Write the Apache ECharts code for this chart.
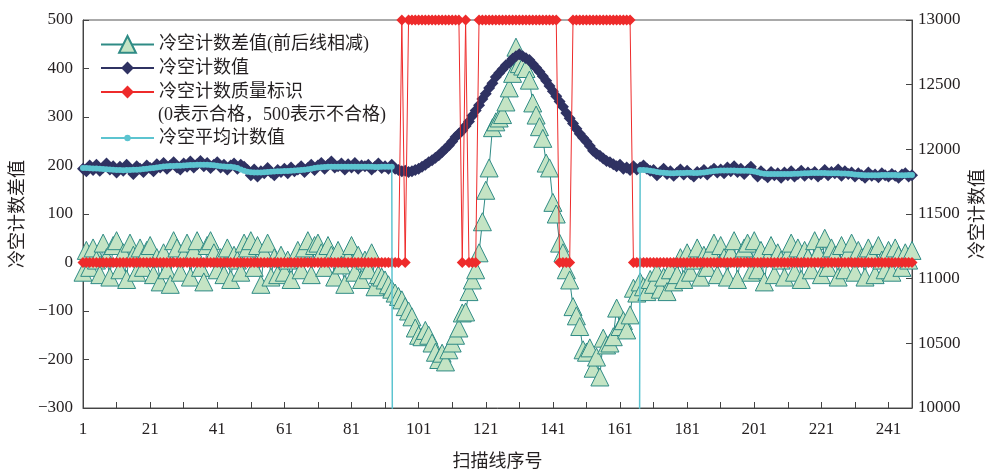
<!DOCTYPE html>
<html>
<head>
<meta charset="utf-8">
<script src="https://cdn.jsdelivr.net/npm/echarts@6/dist/echarts.min.js"></script>
<style>
html,body{margin:0;padding:0;background:#fff;}
#chart{width:993px;height:474px;}
</style>
</head>
<body>
<div id="chart"></div>
<script>
// ---------------- DATA ----------------
const seriesNames = ['冷空计数差值(前后线相减)', '冷空计数值', '冷空计数质量标识', '冷空平均计数值'];
const flagNote = '(0表示合格，500表示不合格)';
const xAxisName = '扫描线序号';
const leftAxisName = '冷空计数差值';
const rightAxisName = '冷空计数值';
const firstScanLine = 1;
const lastScanLine = 248;

// 冷空计数差值 (left axis), scan lines 1..248
const diffValues = [
  -20, 25, -10, 30, 5, -25, 40, 10, -30, 35,
  45, -15, 20, -35, 40, 15, -20, 30, -10, 25,
  35, -25, 10, -40, 20, -15, -45, 45, 30, -20,
  15, 40, -30, 25, 45, -10, -40, 35, 45, 20,
  -15, 10, -25, 30, -35, 15, 5, -20, 40, 30,
  45, -10, 35, -45, 20, 40, -30, 10, -25, 15,
  -20, 5, -35, 10, 25, -15, 30, 45, -25, 35,
  40, 20, -10, 35, 15, -30, 25, -5, -45, 10,
  35, -20, 15, -35, 5, -15, 20, -50, -25, -30,
  -36, -46, -55, -63, -70, -77, -91, -100, -112, -135,
  -150, -153, -140, -150, -166, -185, -200, -187, -205, -180,
  -166, -150, -135, -104, -102, -60, -36, -15, 20, 84,
  149, 195, 278, 290, 298, 305, 331, 360, 390, 444,
  410, 405, 400, 376, 329, 304, 280, 256, 205, 195,
  124, 100, 40, 20, -15, -36, -91, -110, -132, -180,
  -185, -176, -218, -195, -236, -156, -170, -166, -153, -94,
  -132, -120, -139, -108, -53, -63, -40, -50, -60, -35,
  -45, -20, -55, -30, -60, -15, -40, -25, 10, -35,
  20, -20, 5, 30, -30, 15, -10, 25, 40, -25,
  35, 10, -30, 20, 45, -35, 15, 30, 40, -20,
  45, -15, 25, -40, 10, 35, -25, 20, 5, -30,
  15, 40, -20, 30, -35, 25, 10, -15, 45, 20,
  -25, 50, -10, 30, 15, -30, 35, -15, 20, 40,
  -20, 25, 10, -30, 30, 15, -25, 35, 5, -15,
  25, -20, 30, 15, -10, 20, 5, 25
];

// 冷空计数值 (right axis)
const countValues = [
  11850, 11830, 11875, 11840, 11880, 11835, 11860, 11890, 11845, 11870,
  11820, 11865, 11835, 11880, 11845, 11810, 11870, 11850, 11825, 11875,
  11855, 11830, 11885, 11860, 11895, 11850, 11875, 11900, 11860, 11845,
  11890, 11865, 11905, 11860, 11885, 11910, 11870, 11895, 11855, 11880,
  11900, 11860, 11880, 11845, 11875, 11890, 11850, 11880, 11865, 11840,
  11800, 11845, 11790, 11830, 11815, 11855, 11820, 11800, 11840, 11825,
  11850, 11815, 11860, 11830, 11845, 11870, 11825, 11855, 11880, 11840,
  11875, 11895, 11850, 11880, 11905, 11860, 11870, 11890, 11845, 11885,
  11860, 11895, 11850, 11875, 11870, 11880, 11845, 11865, 11890, 11855,
  11870, 11850, 11880, 11850, 11840, 11830, 11835, 11825, 11830, 11840,
  11850, 11865, 11880, 11900, 11915, 11935, 11955, 11980, 12005, 12030,
  12060, 12095, 12120, 12145, 12180, 12215, 12260, 12300, 12340, 12390,
  12430, 12475, 12510, 12560, 12590, 12620, 12650, 12670, 12700, 12720,
  12735, 12720, 12705, 12690, 12660, 12630, 12600, 12565, 12530, 12490,
  12450, 12410, 12370, 12330, 12280, 12240, 12200, 12160, 12120, 12090,
  12060, 12025, 11990, 11965, 11950, 11930, 11910, 11900, 11885, 11870,
  11880, 11850, 11860, 11840, 11870, 11845, 11860, 11875, 11850, 11835,
  11840, 11800, 11825, 11850, 11810, 11830, 11795, 11820, 11845, 11805,
  11835, 11810, 11790, 11825, 11815, 11840, 11805, 11830, 11850, 11820,
  11845, 11815, 11860, 11830, 11870, 11825, 11850, 11810, 11840, 11865,
  11820, 11790, 11830, 11805, 11785, 11825, 11800, 11815, 11780, 11820,
  11800, 11830, 11790, 11810, 11835, 11795, 11820, 11805, 11825, 11790,
  11810, 11840, 11800, 11825, 11815, 11845, 11795, 11830, 11810, 11820,
  11790, 11815, 11800, 11780, 11820, 11795, 11805, 11785, 11815, 11800,
  11790, 11810, 11795, 11780, 11805, 11815, 11790, 11800
];

// 冷空计数质量标识 (0 合格, 500 不合格), left axis
const flagValues = [
  0, 0, 0, 0, 0, 0, 0, 0, 0, 0,
  0, 0, 0, 0, 0, 0, 0, 0, 0, 0,
  0, 0, 0, 0, 0, 0, 0, 0, 0, 0,
  0, 0, 0, 0, 0, 0, 0, 0, 0, 0,
  0, 0, 0, 0, 0, 0, 0, 0, 0, 0,
  0, 0, 0, 0, 0, 0, 0, 0, 0, 0,
  0, 0, 0, 0, 0, 0, 0, 0, 0, 0,
  0, 0, 0, 0, 0, 0, 0, 0, 0, 0,
  0, 0, 0, 0, 0, 0, 0, 0, 0, 0,
  0, 0, 0, 0, 0, 500, 0, 500, 500, 500,
  500, 500, 500, 500, 500, 500, 500, 500, 500, 500,
  500, 500, 500, 0, 500, 0, 0, 0, 500, 500,
  500, 500, 500, 500, 500, 500, 500, 500, 500, 500,
  500, 500, 500, 500, 500, 500, 500, 500, 500, 500,
  500, 500, 0, 0, 0, 0, 500, 500, 500, 500,
  500, 500, 500, 500, 500, 500, 500, 500, 500, 500,
  500, 500, 500, 500, 0, 0, 0, 0, 0, 0,
  0, 0, 0, 0, 0, 0, 0, 0, 0, 0,
  0, 0, 0, 0, 0, 0, 0, 0, 0, 0,
  0, 0, 0, 0, 0, 0, 0, 0, 0, 0,
  0, 0, 0, 0, 0, 0, 0, 0, 0, 0,
  0, 0, 0, 0, 0, 0, 0, 0, 0, 0,
  0, 0, 0, 0, 0, 0, 0, 0, 0, 0,
  0, 0, 0, 0, 0, 0, 0, 0, 0, 0,
  0, 0, 0, 0, 0, 0, 0, 0
];

// 冷空平均计数值 (right axis), 0 where no valid mean
const meanValues = [
  11855, 11855, 11853, 11852, 11852, 11850, 11848, 11846, 11844, 11842,
  11840, 11840, 11839, 11840, 11841, 11842, 11843, 11845, 11848, 11850,
  11853, 11856, 11860, 11864, 11867, 11870, 11871, 11872, 11873, 11874,
  11875, 11877, 11878, 11879, 11880, 11880, 11881, 11880, 11878, 11876,
  11873, 11870, 11868, 11866, 11865, 11862, 11855, 11845, 11835, 11826,
  11822, 11820, 11820, 11821, 11822, 11824, 11826, 11828, 11830, 11831,
  11832, 11833, 11835, 11836, 11838, 11840, 11842, 11846, 11850, 11855,
  11860, 11862, 11864, 11865, 11866, 11866, 11865, 11865, 11866, 11866,
  11866, 11865, 11865, 11866, 11866, 11865, 11865, 11864, 11864, 11865,
  11865, 11865, 11865, 0, 0, 0, 0, 0, 0, 0,
  0, 0, 0, 0, 0, 0, 0, 0, 0, 0,
  0, 0, 0, 0, 0, 0, 0, 0, 0, 0,
  0, 0, 0, 0, 0, 0, 0, 0, 0, 0,
  0, 0, 0, 0, 0, 0, 0, 0, 0, 0,
  0, 0, 0, 0, 0, 0, 0, 0, 0, 0,
  0, 0, 0, 0, 0, 0, 0, 0, 0, 0,
  0, 0, 0, 0, 0, 0, 11840, 11840, 11838, 11835,
  11830, 11825, 11820, 11818, 11817, 11816, 11816, 11817, 11817, 11817,
  11818, 11818, 11817, 11817, 11818, 11820, 11824, 11828, 11832, 11835,
  11836, 11837, 11837, 11836, 11836, 11835, 11835, 11834, 11834, 11832,
  11828, 11822, 11816, 11812, 11810, 11809, 11809, 11810, 11810, 11810,
  11810, 11810, 11811, 11812, 11813, 11815, 11816, 11817, 11817, 11817,
  11817, 11817, 11816, 11816, 11815, 11815, 11814, 11814, 11812, 11810,
  11806, 11803, 11801, 11800, 11800, 11800, 11800, 11800, 11801, 11801,
  11802, 11802, 11801, 11800, 11800, 11800, 11801, 11801
];

const leftTicks = { min: -300, max: 500, interval: 100 };
const rightTicks = { min: 10000, max: 13000, interval: 500 };
const xTicks = { interval: 10, labelEvery: 20 };

// ---------------- CHART ----------------
const FONT = "'Liberation Serif', 'Noto Sans CJK SC', serif";
const TXT = '#231f20';
const scanLines = [];
for (let n = firstScanLine; n <= lastScanLine; n++) scanLines.push(n);
const pair = arr => scanLines.map((n, i) => [n, arr[i]]);

const chart = echarts.init(document.getElementById('chart'), null, { renderer: 'canvas' });

const axisCommon = {
  axisLine: { show: true, onZero: false, lineStyle: { color: '#444', width: 1 } },
  axisTick: { show: true, inside: true, length: 6, lineStyle: { color: '#444' } },
  splitLine: { show: false },
  nameMoveOverlap: false,
  nameTextStyle: { fontFamily: FONT, fontSize: 18, color: TXT },
};
const labelStyle = { fontFamily: FONT, fontSize: 17, color: TXT };
const minusFmt = v => (v < 0 ? '\u2212' + Math.abs(v) : String(v));

const legendBase = {
  orient: 'vertical', left: 100, padding: 0, itemWidth: 53, itemGap: 5,
  textStyle: { fontFamily: FONT, fontSize: 18, color: TXT },
  selectedMode: false,
};

const option = {
  animation: false,
  backgroundColor: '#fff',
  grid: { left: 83, right: 81, top: 20, bottom: 66, outerBoundsMode: 'none', containLabel: false,
          show: true, borderColor: '#555', borderWidth: 1, backgroundColor: 'transparent' },
  legend: [
    Object.assign({}, legendBase, { top: 35, itemHeight: 21, data: [seriesNames[0]] }),
    Object.assign({}, legendBase, { top: 59, itemHeight: 16, data: [seriesNames[1]] }),
    Object.assign({}, legendBase, { top: 83, itemHeight: 16, data: [seriesNames[2]] }),
    Object.assign({}, legendBase, { top: 129, itemHeight: 8, data: [seriesNames[3]] }),
  ],
  graphic: [
    { type: 'text', left: 158, top: 106, silent: true,
      style: { text: flagNote, font: "18px " + FONT, fill: TXT } }
  ],
  xAxis: Object.assign({}, axisCommon, {
    type: 'value', min: firstScanLine, max: lastScanLine, interval: xTicks.interval,
    name: xAxisName, nameLocation: 'middle', nameGap: 45,
    axisLabel: Object.assign({}, labelStyle, {
      margin: 13,
      showMaxLabel: false,
      formatter: v => ((v - firstScanLine) % xTicks.labelEvery === 0 ? String(v) : '')
    }),
  }),
  yAxis: [
    Object.assign({}, axisCommon, {
      type: 'value', position: 'left', min: leftTicks.min, max: leftTicks.max, interval: leftTicks.interval,
      name: leftAxisName, nameLocation: 'middle', nameRotate: 90, nameGap: 56,
      axisLabel: Object.assign({}, labelStyle, { margin: 10, formatter: minusFmt }),
    }),
    Object.assign({}, axisCommon, {
      type: 'value', position: 'right', min: rightTicks.min, max: rightTicks.max, interval: rightTicks.interval,
      name: rightAxisName, nameLocation: 'middle', nameRotate: 90, nameGap: 57,
      axisLabel: Object.assign({}, labelStyle, { margin: 6, formatter: v => String(v) }),
    }),
  ],
  series: [
    {
      name: seriesNames[0], type: 'line', yAxisIndex: 0, data: pair(diffValues),
      symbol: 'triangle', symbolSize: 18, showAllSymbol: true,
      itemStyle: { color: '#c4e4c4', borderColor: '#2f8b85', borderWidth: 1 },
      lineStyle: { color: '#2f8b85', width: 1 },
      emphasis: { disabled: true }, z: 2,
    },
    {
      name: seriesNames[1], type: 'line', yAxisIndex: 1, data: pair(countValues),
      symbol: 'diamond', symbolSize: 12, showAllSymbol: true,
      itemStyle: { color: '#2f3262' },
      lineStyle: { color: '#2f3262', width: 1 },
      emphasis: { disabled: true }, z: 3,
    },
    {
      name: seriesNames[2], type: 'line', yAxisIndex: 0, data: pair(flagValues),
      symbol: 'diamond', symbolSize: 11, showAllSymbol: true,
      itemStyle: { color: '#ee2b2b' },
      lineStyle: { color: '#ee2b2b', width: 1 },
      emphasis: { disabled: true }, z: 4,
    },
    {
      name: seriesNames[3], type: 'line', yAxisIndex: 1, data: pair(meanValues),
      symbol: 'circle', symbolSize: 6, showAllSymbol: true,
      itemStyle: { color: '#5cc4d0' },
      lineStyle: { color: '#5cc4d0', width: 1.5 },
      emphasis: { disabled: true }, z: 5,
    },
  ],
};
chart.setOption(option);
</script>
</body>
</html>
